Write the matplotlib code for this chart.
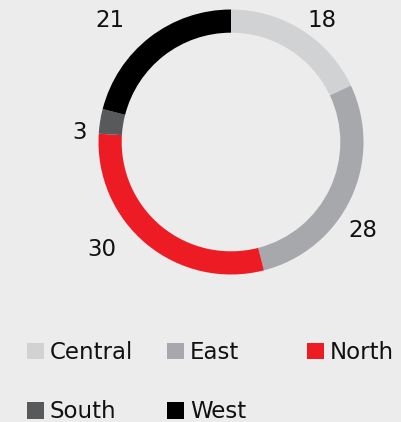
import matplotlib
matplotlib.use("Agg")
import matplotlib.pyplot as plt
from matplotlib.patches import Patch

regions = ["Central", "East", "North", "South", "West"]
values = [18, 28, 30, 3, 21]
colours = ["#d1d2d4", "#a7a8ab", "#ed1c24", "#58595b", "#000000"]
bg = "#ececec"

# where the number labels sit (data coords of the pie, radius = 1)
label_pos = [(0.69, 0.915), (0.995, -0.67), (-0.975, -0.815), (-1.14, 0.07), (-0.91, 0.915)]

plt.rcParams["font.family"] = ["DejaVu Sans"]
fs = 16.5

fig = plt.figure(figsize=(4.01, 4.22), dpi=100, facecolor=bg)
# pie axes, centre around (231, 142) px, radius ~132 px
ax = fig.add_axes([(231 - 132.5) / 401, (422 - 142 - 132.5) / 422, 265 / 401, 265 / 422])
ax.set_facecolor(bg)

wedges, texts = ax.pie(values, labels=[str(v) for v in values], colors=colours,
                       startangle=90, counterclock=False, radius=1,
                       wedgeprops=dict(width=0.175, linewidth=0),
                       textprops=dict(fontsize=fs, color="#111111"))
for t, p in zip(texts, label_pos):
    t.set_position(p)
    t.set_ha("center")
    t.set_va("center")
ax.set_xlim(-1, 1)
ax.set_ylim(-1, 1)
ax.set_aspect("equal")
ax.axis("off")

# legend laid out row by row, 3 per row, 140 px apart
for col in range(3):
    idx = [j for j in range(len(regions)) if j % 3 == col]
    fig.legend([Patch(facecolor=colours[j], edgecolor="none") for j in idx],
               [regions[j] for j in idx], loc="upper left",
               bbox_to_anchor=((27 + 140 * col) / 401, 0.192), frameon=False,
               fontsize=fs, handlelength=0.74, handleheight=0.74,
               handletextpad=0.26, labelspacing=1.59,
               borderpad=0, borderaxespad=0, labelcolor="#111111")

fig.savefig("out.png", dpi=100, facecolor=bg)
